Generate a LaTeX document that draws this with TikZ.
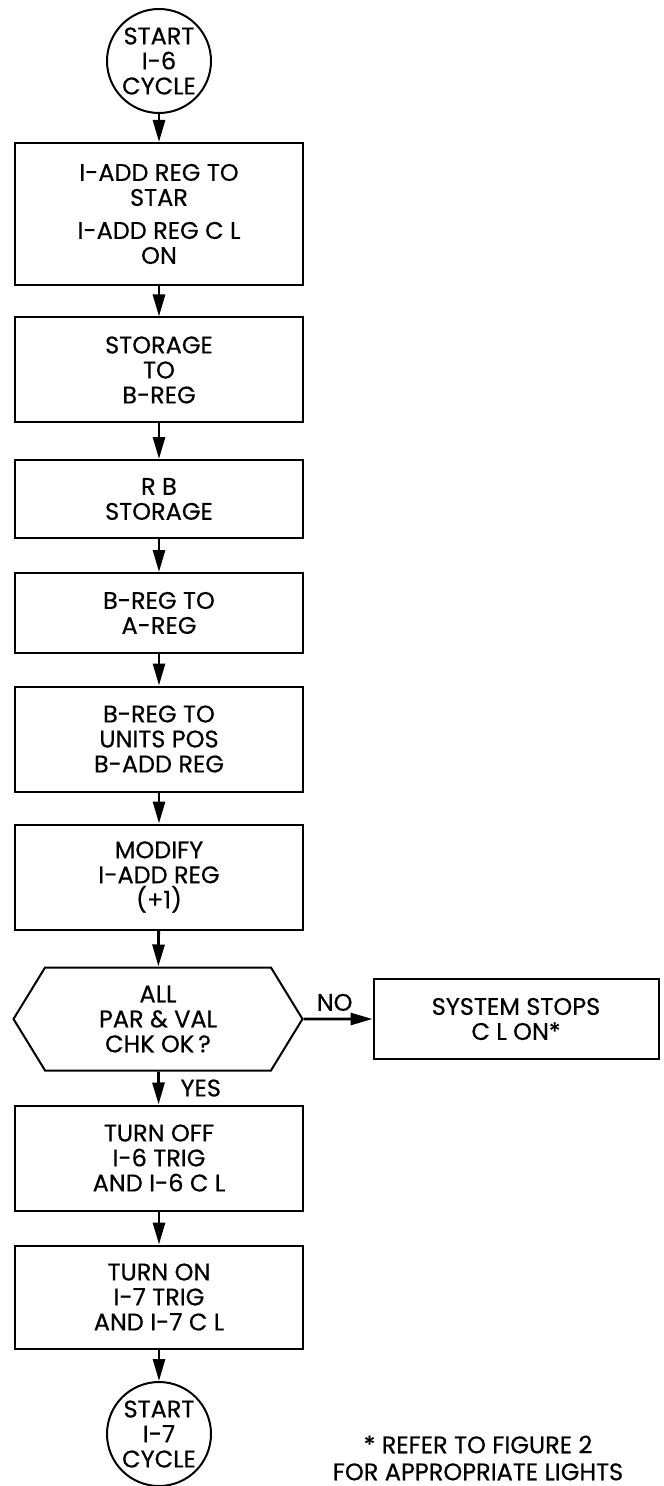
\documentclass[tikz,border=0pt]{standalone}
\usepackage{fontspec}
\setmainfont{Poppins}[FakeBold=0.5]
\usetikzlibrary{arrows.meta, shapes.symbols}

\tikzset{
  stepbox/.style={draw, line width=1pt, rectangle, minimum width=144pt, align=center, inner sep=2pt},
  terminal/.style={draw, line width=1pt, circle, minimum size=52pt, inner sep=0pt, align=center},
  decision/.style={draw, line width=1pt, signal, signal to=west and east, signal pointer angle=117,
    minimum width=144.5pt, minimum height=51.5pt, align=center, inner sep=0pt},
  flow/.style={-{Triangle[length=11pt,width=6pt]}, line width=1.4pt},
}

\begin{document}
\begin{tikzpicture}[x=0.5pt, y=-0.5pt, font=\fontsize{12pt}{12.5pt}\selectfont]
    \useasboundingbox (0,0) rectangle (663,1486);

    % Start and end of the cycle
    \node[terminal] (start) at (159,61) {START\\I-6\\CYCLE};
    \node[terminal] (end) at (159,1434) {START\\I-7\\CYCLE};

    % Steps of the main column
    \foreach \n/\y/\h/\t in {b1/214/71pt/{I-ADD REG TO\\STAR\\[4pt]I-ADD REG C L\\ON},
                             b2/370/52.5pt/{STORAGE\\TO\\B-REG},
                             b3/499/39pt/{R B\\STORAGE},
                             b4/613/40pt/{B-REG TO\\A-REG},
                             b5/739/52.5pt/{B-REG TO\\UNITS POS\\B-ADD REG},
                             b6/877/52.5pt/{MODIFY\\I-ADD REG\\(+1)},
                             b7/1158/52.5pt/{TURN OFF\\I-6 TRIG\\AND I-6 C L},
                             b8/1297/51.5pt/{TURN ON\\I-7 TRIG\\AND I-7 C L}} {
      \node[stepbox, minimum height=\h] (\n) at (159,\y) {\t};
    }

    % Parity and validity check
    \node[decision] (check) at (158,1019) {ALL\\PAR \& VAL\\CHK OK\,?};
    \node[stepbox, minimum width=142.5pt, minimum height=40pt] (stop) at (516,1019) {SYSTEM STOPS\\C L ON*};

    % Connectors
    \foreach \a/\b in {start/b1, b1/b2, b2/b3, b3/b4, b4/b5, b5/b6, b6/check, b7/b8, b8/end} {
      \draw[flow] (\a) -- (\b);
    }
    \draw[flow] (check) -- node[above, pos=0.45] {NO} (stop);
    \draw[flow] (check) -- node[right=7pt] {YES} (b7);

    % Footnote
    \node[align=center, font=\fontsize{12pt}{13.5pt}\selectfont] (note) at (478,1458) {* REFER TO FIGURE 2\\FOR APPROPRIATE LIGHTS};
\end{tikzpicture}
\end{document}
